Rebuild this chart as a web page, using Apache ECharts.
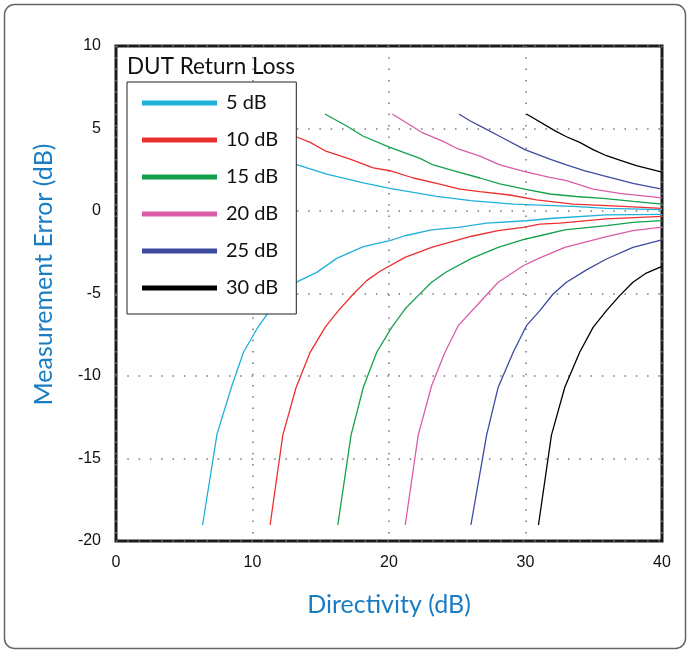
<!DOCTYPE html>
<html>
<head>
<meta charset="utf-8">
<script src="https://cdn.jsdelivr.net/npm/echarts@6/dist/echarts.min.js"></script>
<style>
html,body{margin:0;padding:0;background:#fff;}
#chart{width:690px;height:653px;}
</style>
</head>
<body>
<div id="chart"></div>
<script>
// Categories / legend names
const returnLoss = ['5 dB', '10 dB', '15 dB', '20 dB', '25 dB', '30 dB'];
const xTicks = [0, 10, 20, 30, 40];
const yTicks = [-20, -15, -10, -5, 0, 5, 10];

const up5 = [[5.3,5.88],[7.3,4.87],[9.2,4.16],[11.1,3.35],[13.29,2.79],[15.44,2.24],[18.12,1.7],[20.07,1.37],[23.49,0.89],[26.0,0.63],[29.1,0.42],[31.05,0.36],[33.5,0.28],[35.93,0.16],[40,0.08]];
const lo5 = [[6.34,-19.03],[7.4,-13.52],[8.49,-10.59],[9.34,-8.56],[10.32,-7.15],[11.17,-6.14],[12.2,-5.1],[13.29,-4.28],[14.71,-3.72],[16.17,-2.87],[18.12,-2.16],[20.07,-1.8],[21.17,-1.5],[23.12,-1.15],[25.07,-0.99],[27.15,-0.73],[30.07,-0.59],[32.02,-0.44],[35.93,-0.24],[40,-0.2]];

const up10 = [[10.3,5.88],[12.3,4.87],[13.29,4.47],[14.22,4.16],[15.32,3.65],[17.15,3.15],[18.85,2.61],[20.07,2.44],[21.78,2.0],[23.49,1.68],[25.2,1.33],[26.66,1.17],[28.85,0.97],[30.8,0.68],[33.5,0.42],[37.14,0.28],[40,0.16]];
const lo10 = [[11.29,-19.03],[12.22,-13.58],[13.2,-10.68],[14.2,-8.6],[15.32,-7.05],[16.29,-6.04],[17.39,-5.03],[18.37,-4.22],[19.34,-3.65],[21.17,-2.81],[23.12,-2.2],[24.22,-1.94],[26.05,-1.53],[28.0,-1.19],[29.83,-0.99],[31.05,-0.79],[32.5,-0.73],[35.93,-0.48],[40,-0.32]];

const up15 = [[15.3,5.88],[16.8,5.2],[18.12,4.53],[20.07,3.86],[22.27,3.19],[23.24,2.79],[24.9,2.4],[26.66,2.0],[28.12,1.64],[29.95,1.33],[31.78,1.03],[33.7,0.88],[35.68,0.77],[37.9,0.58],[40,0.42]];
const lo15 = [[16.25,-19.03],[17.22,-13.58],[18.12,-10.68],[19.1,-8.56],[20.2,-7.05],[21.17,-5.94],[22.14,-5.13],[23.12,-4.32],[24.22,-3.68],[26.05,-2.87],[28.0,-2.2],[29.83,-1.74],[31.05,-1.5],[32.88,-1.15],[35.93,-0.89],[37.87,-0.69],[40,-0.58]];

const up20 = [[20.24,5.88],[22.39,4.77],[23.97,4.22],[25.07,3.76],[26.66,3.32],[28.12,2.79],[29.95,2.38],[31.78,2.04],[33.0,1.84],[34.95,1.33],[36.9,1.07],[40,0.79]];
const lo20 = [[21.19,-19.03],[22.14,-13.58],[23.12,-10.59],[24.1,-8.56],[25.07,-6.95],[26.42,-5.74],[28.0,-4.32],[29.83,-3.32],[31.05,-2.84],[32.88,-2.2],[35.93,-1.56],[37.87,-1.19],[40,-0.98]];

const up25 = [[25.12,5.88],[25.93,5.47],[26.9,5.05],[28.24,4.47],[29.95,3.72],[31.78,3.15],[33.0,2.79],[34.3,2.45],[35.68,2.14],[37.87,1.68],[40,1.33]];
const lo25 = [[26.0,-19.03],[27.15,-13.58],[28.0,-10.68],[29.1,-8.56],[30.07,-6.95],[31.05,-6.04],[32.02,-5.03],[33.0,-4.32],[34.5,-3.55],[35.93,-2.91],[37.87,-2.2],[40,-1.75]];

const up30 = [[30.07,5.88],[32.14,4.87],[33.0,4.5],[33.97,4.16],[34.95,3.72],[35.93,3.35],[36.9,3.09],[38.12,2.75],[40,2.36]];
const lo30 = [[30.95,-19.03],[31.9,-13.58],[32.88,-10.68],[33.97,-8.56],[34.95,-7.05],[35.93,-6.04],[36.9,-5.13],[37.87,-4.32],[38.85,-3.76],[40,-3.36]];

const colors = ['#1fb0d9', '#ec2f2f', '#14a04b', '#da5ca8', '#3d4a9e', '#000000'];
const curves = [[up5, lo5], [up10, lo10], [up15, lo15], [up20, lo20], [up25, lo25], [up30, lo30]];

const series = [];
curves.forEach((pair, i) => {
  pair.forEach(d => {
    series.push({
      name: returnLoss[i],
      type: 'line',
      data: d,
      symbol: 'none',
      color: colors[i],
      lineStyle: { color: colors[i], width: 1.3 },
      animation: false
    });
  });
});

const chart = echarts.init(document.getElementById('chart'));
chart.setOption({
  backgroundColor: '#fff',
  animation: false,
  title: {
    text: 'DUT Return Loss',
    left: 127, top: 55, padding: 0,
    textStyle: { fontFamily: 'Lato', fontSize: 22.5, fontWeight: 'normal', color: '#111' }
  },
  graphic: [{
    type: 'rect', silent: true, z: -1,
    shape: { x: 4.5, y: 4.5, width: 681, height: 644, r: 10 },
    style: { fill: 'none', stroke: '#666', lineWidth: 1.5 }
  }],
  legend: {
    data: returnLoss,
    orient: 'vertical',
    left: 127, top: 82,
    backgroundColor: '#fff',
    borderColor: '#222', borderWidth: 1,
    padding: [10, 18, 15, 15],
    itemWidth: 75, itemHeight: 5, itemGap: 15,
    icon: 'rect',
    textStyle: { fontFamily: 'Lato', fontSize: 20, color: '#111', lineHeight: 22, padding: [0, 0, 0, 4] }
  },
  grid: {
    left: 116, right: 28, top: 46, bottom: 112,
    show: true, borderColor: '#1a1a1a', borderWidth: 3, backgroundColor: 'transparent'
  },
  xAxis: {
    type: 'value', min: xTicks[0], max: xTicks[xTicks.length - 1], interval: 10,
    name: 'Directivity (dB)', nameLocation: 'middle', nameGap: 51,
    nameTextStyle: { fontFamily: 'Lato', fontSize: 25, color: '#1a7dc4' },
    axisLine: { show: false }, axisTick: { show: false },
    axisLabel: { margin: 14, fontFamily: 'Liberation Sans', fontSize: 16, color: '#111' },
    splitLine: { show: true, lineStyle: { type: [1.5, 9.8], color: '#777', width: 1.5 } }
  },
  yAxis: {
    type: 'value', min: yTicks[0], max: yTicks[yTicks.length - 1], interval: 5,
    name: 'Measurement Error (dB)', nameLocation: 'middle', nameGap: 60,
    nameTextStyle: { fontFamily: 'Lato', fontSize: 25, color: '#1a7dc4', padding: [0, 0, 0, 38] },
    axisLine: { show: false }, axisTick: { show: false },
    axisLabel: { margin: 15, fontFamily: 'Liberation Sans', fontSize: 16, color: '#111' },
    splitLine: { show: true, lineStyle: { type: [1.5, 9.8], color: '#777', width: 1.5 } }
  },
  series: series
});
</script>
</body>
</html>
